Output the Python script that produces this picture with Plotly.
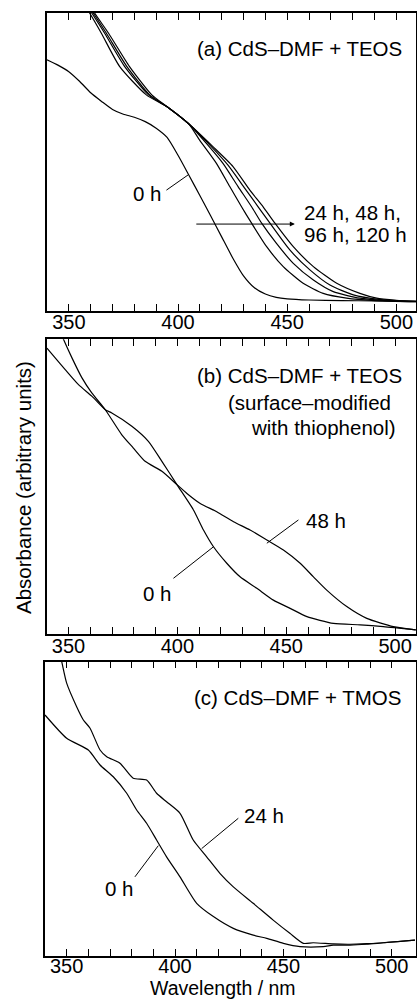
import plotly.graph_objects as go

FONT = "Liberation Sans, Arial, Helvetica, sans-serif"

# ---------------- data (wavelength / nm, absorbance in arbitrary units) ----------------
# Panel (a) CdS-DMF + TEOS
a_0h_wl = [340, 345, 350, 355, 360, 365, 370, 375, 380, 385, 390, 395, 400, 405, 410, 415, 420,
           425, 430, 435, 440, 445, 450, 460, 475, 490, 509]
a_0h_ab = [0.843, 0.825, 0.803, 0.770, 0.732, 0.703, 0.676, 0.660, 0.650, 0.635, 0.613, 0.582,
           0.522, 0.455, 0.387, 0.318, 0.248, 0.178, 0.117, 0.077, 0.056, 0.045, 0.040, 0.036,
           0.034, 0.033, 0.031]
a_24h_wl = [358, 361.8, 368.2, 377.8, 388, 395, 405, 409.9, 417.6, 423.7, 429.1, 433.7, 440.6,
            448.2, 457.3, 466.5, 477.2, 490, 509]
a_24h_ab = [1.05, 1.0, 0.932, 0.82, 0.725, 0.685, 0.627, 0.573, 0.495, 0.417, 0.349, 0.294, 0.215,
            0.148, 0.092, 0.058, 0.042, 0.034, 0.030]
a_48h_wl = [357, 361.2, 367.2, 376.6, 387, 395, 405, 413, 420.6, 427.5, 433.7, 438.3, 445.1,
            452.8, 462, 471.1, 483.3, 495, 509]
a_48h_ab = [1.05, 1.0, 0.932, 0.82, 0.725, 0.685, 0.627, 0.562, 0.495, 0.417, 0.349, 0.294, 0.226,
            0.159, 0.103, 0.064, 0.042, 0.034, 0.030]
a_96h_wl = [356, 360.5, 366.4, 375.6, 386.5, 395, 405, 414.5, 422.9, 430.6, 436.7, 442.1, 451.2,
            460.4, 469.6, 480.3, 492, 509]
a_96h_ab = [1.05, 1.0, 0.932, 0.82, 0.725, 0.685, 0.627, 0.557, 0.489, 0.411, 0.349, 0.294, 0.204,
            0.137, 0.086, 0.053, 0.038, 0.031]
a_120h_wl = [355, 359.5, 364.9, 373.3, 385.5, 395, 405, 416, 425.2, 432.9, 439, 444.4, 452.8,
             462, 472.7, 483.3, 491, 500, 509]
a_120h_ab = [1.05, 1.0, 0.932, 0.82, 0.725, 0.685, 0.627, 0.551, 0.484, 0.405, 0.349, 0.294, 0.215,
             0.148, 0.092, 0.058, 0.042, 0.035, 0.031]

# Panel (b) CdS-DMF + TEOS, surface-modified with thiophenol
b_0h_wl = [340.1, 343.9, 348.5, 354.6, 360.7, 366.9, 369.9, 379.1, 386.7, 392.9, 399.8, 407.4,
           412, 416.6, 422.7, 428.8, 436.5, 444.1, 451.8, 459.5, 471.7, 484, 494.6, 509.5]
b_0h_ab = [0.970, 0.937, 0.897, 0.846, 0.807, 0.761, 0.750, 0.705, 0.654, 0.586, 0.507, 0.421,
           0.353, 0.296, 0.240, 0.194, 0.155, 0.115, 0.087, 0.059, 0.036, 0.031, 0.025, 0.014]
b_48h_wl = [345.5, 347.7, 351.6, 356.2, 360.7, 366.9, 374.5, 379.8, 385.2, 392.9, 399.8, 404.4,
            410.5, 418.1, 425.8, 433.4, 441.1, 448.7, 456.4, 462.5, 468.6, 477.8, 487, 499.2, 509.5]
b_48h_ab = [1.04, 1.0, 0.937, 0.869, 0.818, 0.761, 0.676, 0.631, 0.586, 0.552, 0.507, 0.477,
            0.443, 0.415, 0.381, 0.353, 0.319, 0.285, 0.240, 0.194, 0.149, 0.093, 0.053, 0.025,
            0.014]

# Panel (c) CdS-DMF + TMOS
c_0h_wl = [340, 350, 360, 365.4, 371.5, 377.7, 382.3, 386.9, 391.5, 396.1, 402.3, 410, 417.7,
           426.9, 436.1, 442.3, 450, 457.7, 468.4, 473, 480.7, 488.4, 496.1, 510.7]
c_0h_ab = [0.819, 0.740, 0.700, 0.649, 0.609, 0.553, 0.496, 0.451, 0.394, 0.337, 0.269, 0.179,
           0.134, 0.094, 0.071, 0.060, 0.043, 0.032, 0.032, 0.037, 0.037, 0.040, 0.045, 0.054]
c_24h_wl = [346, 347.7, 350, 354.6, 357.7, 360.8, 365.4, 368.5, 374.6, 380.7, 386.9, 391.5,
            396.1, 402.3, 408.4, 414.6, 420.7, 426.9, 436.1, 445.3, 453, 459.2, 463.8, 473,
            480.7, 488.4, 496.1, 510.7]
c_24h_ab = [1.05, 1.0, 0.927, 0.847, 0.802, 0.774, 0.700, 0.677, 0.655, 0.604, 0.598, 0.553,
            0.524, 0.485, 0.394, 0.337, 0.281, 0.235, 0.179, 0.122, 0.077, 0.043, 0.045, 0.041,
            0.040, 0.042, 0.045, 0.054]

# ticks
tick_vals = [350, 360, 370, 380, 390, 400, 410, 420, 430, 440, 450, 460, 470, 480, 490, 500]
tick_text = ["350", "", "", "", "", "400", "", "", "", "", "450", "", "", "", "", "500"]

# ---------------- figure ----------------
fig = go.Figure()

def add_curve(wl, ab, n):
    sfx = "" if n == 1 else str(n)
    fig.add_trace(go.Scatter(
        x=wl, y=ab, mode="lines",
        line=dict(color="black", width=1.2, shape="spline", smoothing=0.6),
        xaxis="x" + sfx, yaxis="y" + sfx, showlegend=False, hoverinfo="skip"))

for wl, ab in [(a_0h_wl, a_0h_ab), (a_24h_wl, a_24h_ab), (a_48h_wl, a_48h_ab),
               (a_96h_wl, a_96h_ab), (a_120h_wl, a_120h_ab)]:
    add_curve(wl, ab, 1)
for wl, ab in [(b_0h_wl, b_0h_ab), (b_48h_wl, b_48h_ab)]:
    add_curve(wl, ab, 2)
for wl, ab in [(c_0h_wl, c_0h_ab), (c_24h_wl, c_24h_ab)]:
    add_curve(wl, ab, 3)

W, H = 417, 1000
FS = 20.5

def xax(left_px, xmax, anchor, standoff):
    return dict(domain=[left_px / W, 416 / W], range=[340, xmax], anchor=anchor,
                tickmode="array", tickvals=tick_vals, ticktext=tick_text,
                ticks="inside", ticklen=7, tickwidth=1, tickcolor="black",
                mirror="ticks", showline=True, linecolor="black", linewidth=1.5,
                showgrid=False, zeroline=False, ticklabelstandoff=standoff,
                tickfont=dict(family=FONT, size=20, color="black"))

def yax(top_px, bot_px, anchor):
    return dict(domain=[1 - bot_px / H, 1 - top_px / H], range=[0, 1], anchor=anchor,
                showticklabels=False, ticks="", showline=True, mirror=True,
                linecolor="black", linewidth=1.5, showgrid=False, zeroline=False)

fig.update_layout(
    width=W, height=H,
    margin=dict(l=0, r=0, t=0, b=0),
    plot_bgcolor="white", paper_bgcolor="white",
    font=dict(family=FONT, size=FS, color="black"),
    xaxis=xax(47, 509.0, "y", -7), yaxis=yax(13, 310.7, "x"),
    xaxis2=xax(46.7, 509.6, "y2", -7), yaxis2=yax(339.3, 634, "x2"),
    xaxis3=xax(45, 511.2, "y3", -9), yaxis3=yax(661.7, 956, "x3"),
)

def ptext(text, xpx, ypx, xanchor, size=FS):
    fig.add_annotation(text=text, x=xpx / W, y=1 - ypx / H, xref="paper", yref="paper",
                       xanchor=xanchor, yanchor="middle", showarrow=False,
                       font=dict(family=FONT, size=size, color="black"))

# panel labels
ptext("(a) CdS\u2013DMF + TEOS", 404, 48, "right")
ptext("0 h", 164, 193, "right")
ptext("24 h, 48 h,", 302, 213, "left")
ptext("96 h, 120 h", 302, 234, "left")

ptext("(b) CdS\u2013DMF + TEOS", 404, 375, "right")
ptext("(surface\u2013modified", 393, 402, "right")
ptext("with thiophenol)", 398, 428, "right")
ptext("48 h", 304, 520, "left")
ptext("0 h", 174, 593, "right")

ptext("(c) CdS\u2013DMF + TMOS", 404, 697, "right")
ptext("24 h", 242, 815, "left")
ptext("0 h", 136, 888, "right")

# axis titles
ptext("Wavelength / nm", 222.5, 988, "center", 19.5)
fig.add_annotation(text="Absorbance (arbitrary units)", x=23 / W, y=1 - 488 / H,
                   xref="paper", yref="paper", xanchor="center", yanchor="middle",
                   textangle=-90, showarrow=False,
                   font=dict(family=FONT, size=FS, color="black"))

# leader lines (x0, y0, x1, y1, axis suffix)
leaders = [
    (394.7, 0.405, 404.6, 0.456, ""),
    (398.2, 0.189, 416.6, 0.296, "2"),
    (441.1, 0.308, 455.6, 0.387, "2"),
    (381.5, 0.269, 392.3, 0.375, "3"),
    (412.3, 0.365, 429.2, 0.468, "3"),
]
for x0, y0, x1, y1, s in leaders:
    fig.add_shape(type="line", x0=x0, y0=y0, x1=x1, y1=y1, xref="x" + s, yref="y" + s,
                  line=dict(color="black", width=1))

# arrow in panel (a)
arrow_tail = (407.7, 0.291)
arrow_head = (453.5, 0.291)
fig.add_annotation(text="", x=arrow_head[0], y=arrow_head[1], ax=arrow_tail[0], ay=arrow_tail[1],
                   xref="x", yref="y", axref="x", ayref="y", showarrow=True,
                   arrowhead=2, arrowsize=1, arrowwidth=1, arrowcolor="black")

fig.write_html("out.html", config={"displayModeBar": False},
               post_script="document.body.style.margin='0';document.body.style.overflow='hidden';")
